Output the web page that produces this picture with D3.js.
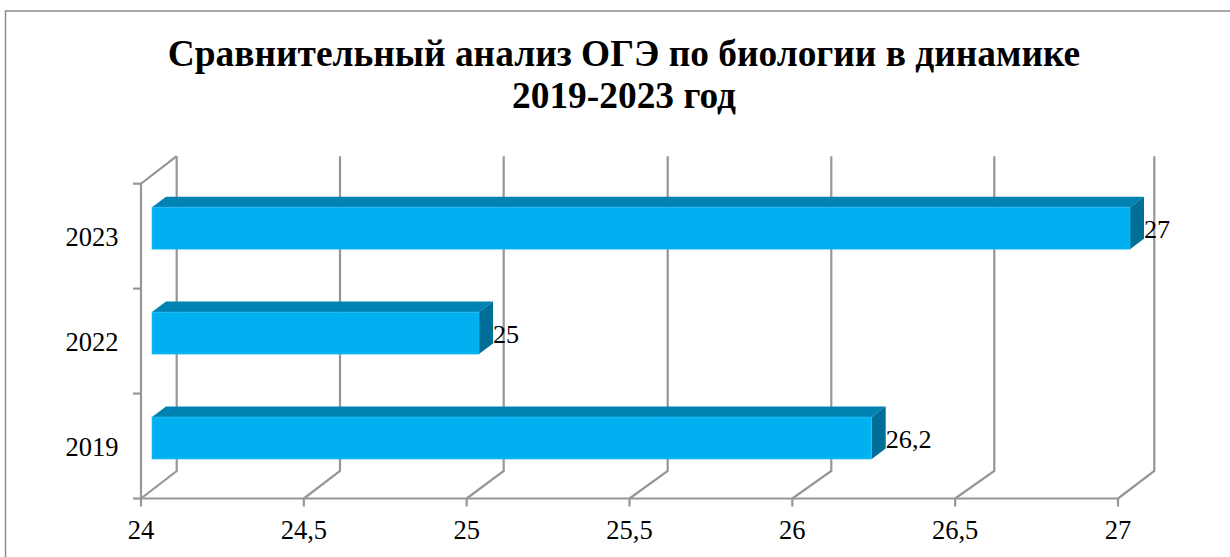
<!DOCTYPE html>
<html><head><meta charset="utf-8">
<script src="https://cdn.jsdelivr.net/npm/d3@7"></script>
<style>html,body{margin:0;padding:0;background:#fff}svg{display:block}text{font-family:"Liberation Serif",serif;fill:#000}</style>
</head><body><svg id="c" width="1230" height="557"></svg>
<script>
const categories = ["2023","2022","2019"];
const values = [27,25,26.2];
const valueLabels = ["27","25","26,2"];
const xTickValues = [24,24.5,25,25.5,26,26.5,27];
const xTickLabels = ["24","24,5","25","25,5","26","26,5","27"];
const titleLines = ["Сравнительный анализ ОГЭ по биологии в динамике","2019-2023 год"];

const svg = d3.select("#c");
const grid = "#969696";
const x = d3.scaleLinear().domain([24,27]).range([141,1118]);
// the back wall of the 3D plot is not perfectly regular in the source
const xBack = d3.scaleLinear().domain(xTickValues).range([176.7,340,503.7,667.7,831.3,994.3,1154.3]);
const xBar = d3.scaleLinear().domain([24,25,26.2,27]).range([152,479,871.7,1130]);
const y = d3.scaleBand().domain(categories).range([183.7,498.5]).paddingInner(.6).paddingOuter(.3);
const dy = -27.5;                // wall depth
const bdx = 14, bdy = -10.5;     // bar depth
const barY = -8;                 // bar offset within the depth

svg.append("path").attr("d","M5.5,557V11H1230").attr("fill","none").attr("stroke","#8c8c8c").attr("stroke-width",1.5);

svg.append("g").selectAll("text").data(titleLines).join("text")
  .attr("x",624).attr("y",(d,i)=>66+i*42).attr("text-anchor","middle")
  .attr("font-size",37.4).attr("font-weight","bold").text(d=>d);

const [yTop,yBot] = y.range();
const g = svg.append("g").attr("fill","none").attr("stroke",grid).attr("stroke-width",2.2);
xTickValues.forEach(v=>{
  g.append("path").attr("d",`M${x(v)},${yBot}L${xBack(v)},${yBot+dy}V${yTop+dy}`);
  g.append("path").attr("d",`M${x(v)},${yBot}v8`);
});
g.append("path").attr("d",`M${x(24)},${yBot}V${yTop}L${xBack(24)},${yTop+dy}`);
g.append("path").attr("d",`M${x(24)},${yBot}H${x(27)}`);
d3.range(categories.length+1).forEach(i=>{
  const t = yTop + i*y.step();
  g.append("path").attr("d",`M${x(24)-8},${t}H${x(24)}`);
});

const bars = svg.append("g").selectAll("g").data(categories).join("g");
bars.each(function(c,i){
  const s = d3.select(this);
  const x0 = xBar(24), x1 = xBar(values[i]);
  const y0 = y(c)+barY, y1 = y0+y.bandwidth();
  s.append("path").attr("fill","#0083B3").attr("d",`M${x0},${y0}l${bdx},${bdy}H${x1+bdx}L${x1},${y0}Z`);
  s.append("path").attr("fill","#006F98").attr("d",`M${x1},${y0}l${bdx},${bdy}V${y1+bdy}L${x1},${y1}Z`);
  s.append("rect").attr("x",x0).attr("y",y0).attr("width",x1-x0).attr("height",y1-y0).attr("fill","#00B0F0")
    .attr("stroke","#2CBDF3").attr("stroke-width",.6);
  s.append("text").attr("x",x1+bdx).attr("y",y0+31).attr("font-size",26.2).text(valueLabels[i]);
});

svg.append("g").selectAll("text").data(categories).join("text")
  .attr("x",118.5).attr("y",d=>y(d)+y.bandwidth()/2+10).attr("text-anchor","end")
  .attr("font-size",26.5).text(d=>d);

svg.append("g").selectAll("text").data(xTickValues).join("text")
  .attr("x",d=>x(d)).attr("y",539).attr("text-anchor","middle")
  .attr("font-size",26.5).text((d,i)=>xTickLabels[i]);
</script></body></html>
